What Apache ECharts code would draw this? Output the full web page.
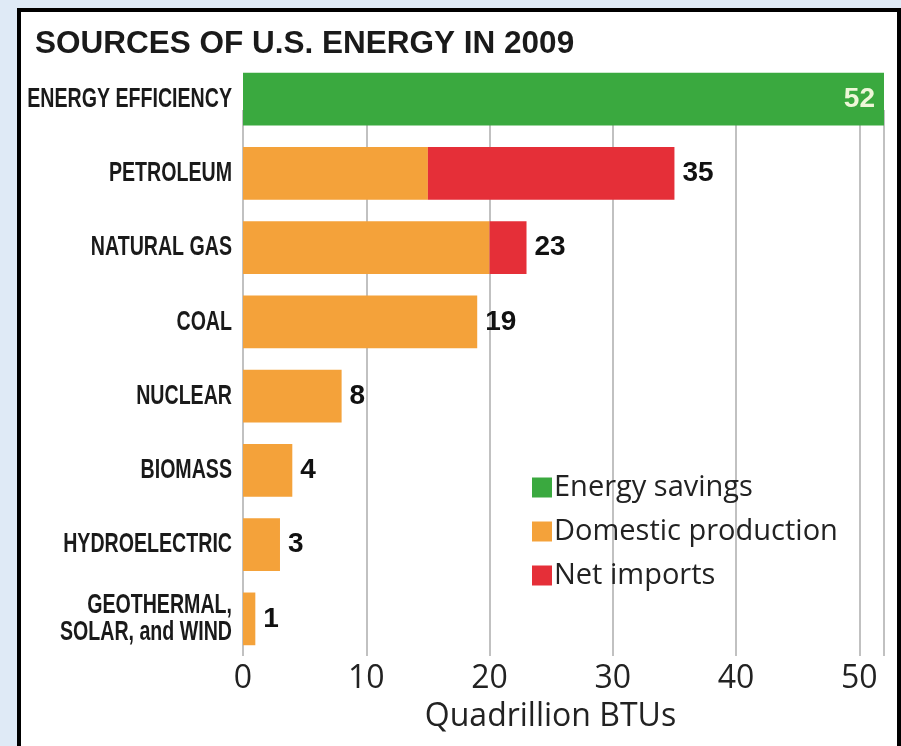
<!DOCTYPE html>
<html><head><meta charset="utf-8">
<script src="https://cdn.jsdelivr.net/npm/echarts@6/dist/echarts.min.js"></script>
<style>html,body{margin:0;padding:0;background:#dfeaf6;}#c{width:901px;height:746px;}</style>
</head><body><div id="c"></div>
<script>
const categories = ['ENERGY EFFICIENCY','PETROLEUM','NATURAL GAS','COAL','NUCLEAR','BIOMASS','HYDROELECTRIC','GEOTHERMAL,\nSOLAR, and WIND'];
const energySavings = [52, null, null, null, null, null, null, null];
const domesticProduction = [null, 15, 20, 19, 8, 4, 3, 1];
const netImports = [null, 20, 3, null, null, null, null, null];
const xTicks = [0, 10, 20, 30, 40, 50];
const totals = categories.map((c,i)=>(energySavings[i]||0)+(domesticProduction[i]||0)+(netImports[i]||0));

const boldFont = "'Liberation Sans',Arial,sans-serif";
const regFont = "'Open Sans',sans-serif";
const chart = echarts.init(document.getElementById('c'), null, {renderer:'canvas'});
const baseGraphic = [
  {id:'panel', type:'rect', z:-10, shape:{x:19, y:10, width:880, height:760}, style:{fill:'#ffffff', stroke:'#000', lineWidth:4}},
  {id:'title', type:'text', left:35, top:28, style:{text:'SOURCES OF U.S. ENERGY IN 2009', font:"bold 31.5px " + boldFont, fill:'#1a1a1a'}}
];
chart.setOption({
  backgroundColor:'#dfeaf6',
  animation:false,
  graphic: baseGraphic,
  grid:[
    {left:243, right:17, top:62, bottom:90, outerBoundsMode:'none', containLabel:false},
    {left:243, right:17, top:110, bottom:90, outerBoundsMode:'none', containLabel:false}
  ],
  legend:{
    orient:'vertical', left:527, top:468, itemWidth:20, itemHeight:20, itemGap:15,
    icon:'rect', selectedMode:false,
    textStyle:{fontSize:29, fontFamily:regFont, color:'#222', padding:[0,0,0,-3]},
    data:['Energy savings','Domestic production','Net imports']
  },
  xAxis:[{
    gridIndex:0, type:'value', min:0, max:52, interval:10,
    axisLine:{show:false}, axisTick:{show:false},
    splitLine:{show:false},
    axisLabel:{fontSize:32, color:'#222', fontFamily:regFont, margin:7, customValues: xTicks},
    name:'Quadrillion BTUs', nameLocation:'middle', nameGap:45,
    nameTextStyle:{fontSize:32, color:'#222', fontFamily:regFont, padding:[0,26,0,0]}
  },{
    gridIndex:1, type:'value', min:0, max:52, interval:10,
    axisLine:{show:false}, axisTick:{show:false}, axisLabel:{show:false},
    splitLine:{show:true, lineStyle:{color:'#adadad', width:1.5}}
  }],
  yAxis:[{
    gridIndex:0, type:'category', data:categories, inverse:true,
    axisLine:{show:false}, axisTick:{show:false},
    axisLabel:{show:false}
  },{
    gridIndex:1, type:'value', show:false, splitLine:{show:false}
  }],
  series:[
    {name:'Energy savings', type:'bar', stack:'s', data:energySavings, barWidth:'71%',
      itemStyle:{color:'#3aa93f'},
      label:{show:true, position:'insideRight', color:'#eef7d8', fontSize:28, fontWeight:'bold', fontFamily:boldFont, distance:9,
        formatter:p=>totals[p.dataIndex]}},
    {name:'Domestic production', type:'bar', stack:'s', data:domesticProduction,
      itemStyle:{color:'#f4a23a'},
      label:{show:true, position:'right', color:'#111', fontSize:28, fontWeight:'bold', fontFamily:boldFont, distance:8,
        formatter:p=>(netImports[p.dataIndex]==null ? totals[p.dataIndex] : '')}},
    {name:'Net imports', type:'bar', stack:'s', data:netImports,
      itemStyle:{color:'#e52f38'},
      label:{show:true, position:'right', color:'#111', fontSize:28, fontWeight:'bold', fontFamily:boldFont, distance:8,
        formatter:p=>totals[p.dataIndex]}}
  ]
});
// Category labels: condensed look via horizontal scaling, placed with the axis scale
const labelX = chart.convertToPixel({xAxisIndex:0}, 0) - 11;
const catLabels = categories.map((c,i)=>({
  id:'cat'+i, type:'text', x:labelX, y:chart.convertToPixel({yAxisIndex:0}, i), scaleX:0.7,
  style:{text:c, x:0, y:0, align:'right', verticalAlign:'middle', font:"bold 28px " + boldFont, fill:'#1a1a1a', lineHeight:27}
}));
chart.setOption({graphic: baseGraphic.concat(catLabels)});
</script></body></html>
